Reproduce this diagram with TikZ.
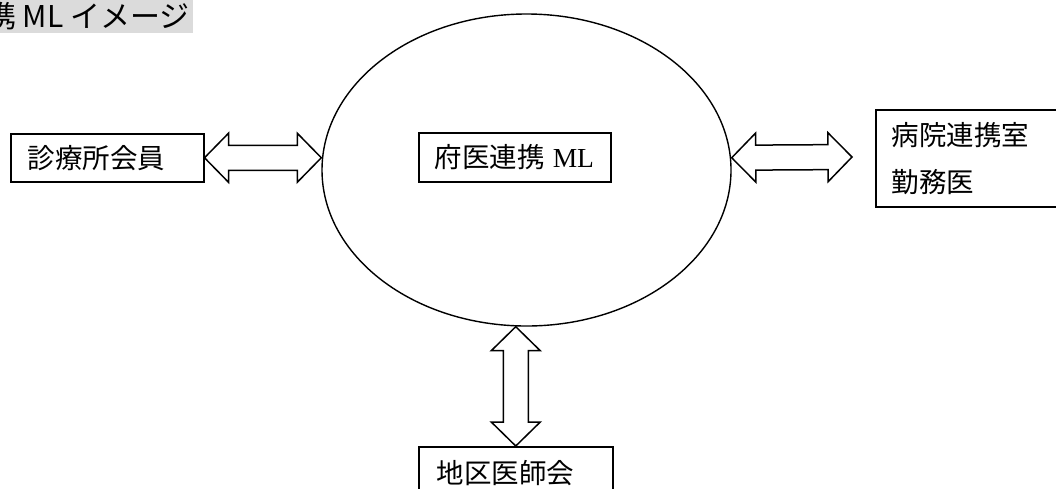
\documentclass[tikz,border=0pt]{standalone}
\usepackage{fontspec}
\setmainfont{Liberation Serif}
\newfontfamily\jp{Noto Sans CJK JP}
\usetikzlibrary{calc,shapes.geometric}
\tikzset{
  boxnode/.style={draw=black, line width=1.5pt, anchor=north west, align=left, inner ysep=0pt, font=\fontsize{27.5}{47}\selectfont},
  barrow/.style={draw=black, line width=1.5pt, fill=white, line join=miter},
}
\newcommand\dblarrow[2]{%
  \path (#1) coordinate (A) (#2) coordinate (B);
  \path ($(A)!24pt!(B)$) coordinate (Ha) ($(B)!24pt!(A)$) coordinate (Hb);
  \draw[barrow] (A) -- ($(Ha)!24.5pt!90:(B)$) -- ($(Ha)!12.5pt!90:(B)$)
    -- ($(Hb)!12.5pt!-90:(A)$) -- ($(Hb)!24.5pt!-90:(A)$) -- (B)
    -- ($(Hb)!24.5pt!90:(A)$) -- ($(Hb)!12.5pt!90:(A)$)
    -- ($(Ha)!12.5pt!-90:(B)$) -- ($(Ha)!24.5pt!-90:(B)$) -- cycle;}
\begin{document}
\begin{tikzpicture}[x=1pt,y=-1pt]
\useasboundingbox (0,0) rectangle (1056,488);
\clip (0,0) rectangle (1056,488);
% title
\fill[black!14] (0,0) rectangle (193,33);
\node[anchor=west, inner sep=0pt, font=\jp\fontsize{30}{32}\selectfont] (title) at (-14,16) {携 ML イメージ};
% ellipse
\node[draw=black, line width=1.4pt, ellipse, minimum width=409pt, minimum height=312pt, inner sep=0pt] (ell) at (526.5,170) {};
% boxes
\node[boxnode, minimum width=193pt, minimum height=48pt, inner xsep=17pt, text width=159pt] (lbox) at (10,133) {\jp 診療所会員};
\node[boxnode, minimum width=192pt, minimum height=49pt, inner xsep=16pt, text width=160pt] (cbox) at (418,132) {\mbox{{\jp 府医連携}\hspace{8pt}ML}};
\node[boxnode, minimum width=190pt, minimum height=97pt, inner xsep=16pt, text width=158pt] (rbox) at (875,109) {\jp 病院連携室\\\jp 勤務医};
\node[boxnode, minimum width=194pt, minimum height=52pt, inner xsep=18pt, text width=158pt] (bbox) at (418,446) {\jp 地区医師会};
% arrows
\coordinate (lend) at (lbox.east -| ell.west);
\coordinate (rstart) at (ell.east |- lbox.east);
\coordinate (rend) at (852,157);
\coordinate (vstart) at (bbox.north |- ell.south);
\dblarrow{lbox.east}{lend}
\dblarrow{rstart}{rend}
\dblarrow{vstart}{bbox.north}
\end{tikzpicture}
\end{document}
